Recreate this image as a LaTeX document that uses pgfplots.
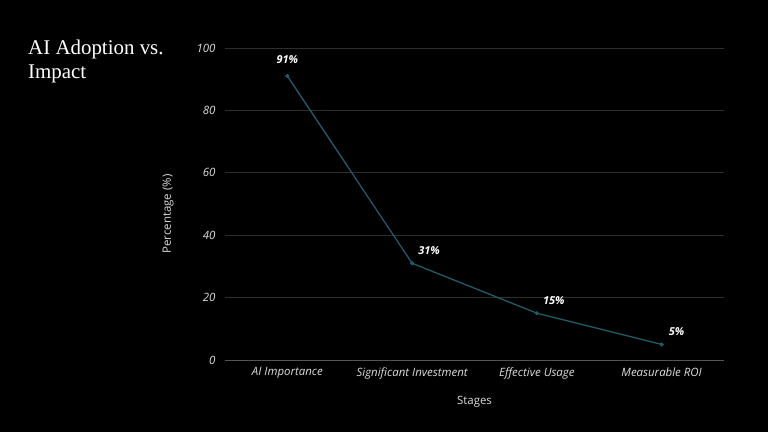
\documentclass[border=0pt]{standalone}
\usepackage{pgfplots}
\pgfplotsset{compat=1.18}
\usepackage{pgfplotstable}
\usepackage{fontspec}
\setmainfont{Open Sans}
\newfontfamily\titlefont{Liberation Serif}
\definecolor{bg}{HTML}{000000}
\definecolor{linec}{HTML}{1F5C6B}
\definecolor{gridc}{HTML}{2E2E2E}
\definecolor{axisc}{HTML}{555555}
\definecolor{tickc}{HTML}{DDDDDD}
\pgfplotstableread{
x y dx dy
0 91 0 9
1 31 17 5
2 15 17 5
3 5 15 5
}\datatable
\begin{document}
\begin{tikzpicture}[x=1bp,y=1bp]
\fill[bg] (0,0) rectangle (768,432);
\node[anchor=north west, align=left, text=white, inner sep=0pt, font=\titlefont\fontsize{21}{24}\selectfont] at (28,392) {AI Adoption vs.\\Impact};
\begin{axis}[
  at={(225bp,72bp)}, anchor=south west,
  width=499bp, height=312bp, scale only axis,
  xmin=-0.5, xmax=3.5, ymin=0, ymax=100,
  xtick={0,1,2,3},
  xticklabels={AI Importance, Significant Investment, Effective Usage, Measurable ROI},
  ytick={0,20,40,60,80,100},
  ymajorgrids, grid style={gridc, line width=0.8pt},
  axis line style={draw=none},
  axis x line*=bottom,
  x axis line style={draw=axisc, line width=0.8pt},
  axis y line*=left,
  y axis line style={draw=none},
  major tick length=0pt,
  tick label style={text=tickc, font=\itshape\fontsize{11.5}{13}\selectfont},
  /pgf/number format/assume math mode=true,
  xticklabel style={yshift=-4bp},
  yticklabel style={xshift=-6bp},
  xlabel={Stages}, ylabel={Percentage (\%)},
  label style={text=tickc, font=\fontsize{11.5}{13}\selectfont},
  xlabel style={yshift=-10bp},
  ylabel style={yshift=16bp, xshift=-10bp},
  clip=false,
]
\addplot[color=linec, line width=1.3pt, mark=*, mark size=1.3pt, mark options={fill=linec, draw=linec},
  nodes near coords={\pgfmathprintnumber{\pgfplotspointmeta}\%},
  point meta=explicit,
  visualization depends on={\thisrow{dx} \as \dx},
  visualization depends on={\thisrow{dy} \as \dy},
  nodes near coords style={text=white, font=\bfseries\itshape\fontsize{11}{13}\selectfont, anchor=south, xshift=\dx bp, yshift=\dy bp},
] table[x=x, y=y, meta=y] {\datatable};
\end{axis}
\end{tikzpicture}
\end{document}
